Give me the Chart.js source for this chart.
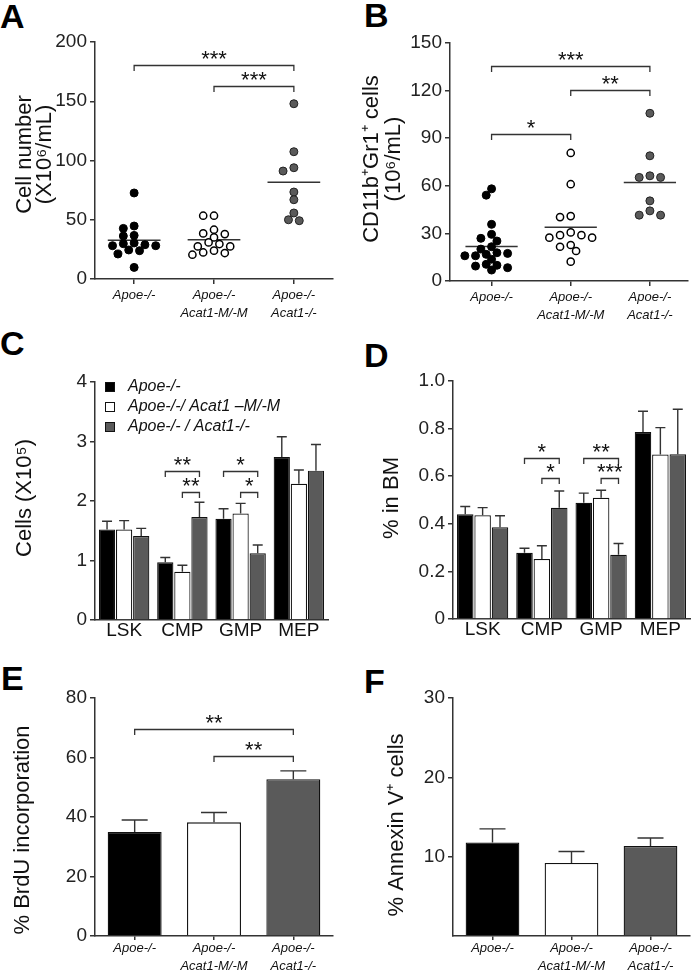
<!DOCTYPE html>
<html>
<head>
<meta charset="utf-8">
<script src="https://cdn.jsdelivr.net/npm/chart.js@4.4.1/dist/chart.umd.min.js"></script>
<style>
  body { margin: 0; background: #fff; width: 693px; height: 975px; position: relative; overflow: hidden; }
  canvas { position: absolute; }
  .lt { position: absolute; font: bold 34px 'Liberation Sans', Arial, sans-serif; line-height: 34px; color: #000; }
</style>
</head>
<body>
<div class="lt" style="left:0px;top:-1px">A</div>
<div class="lt" style="left:364px;top:-2px">B</div>
<div class="lt" style="left:0px;top:326px">C</div>
<div class="lt" style="left:364px;top:338px">D</div>
<div class="lt" style="left:1px;top:661px">E</div>
<div class="lt" style="left:364px;top:664px">F</div>

<canvas id="cA" width="340" height="320" style="left:0;top:0"></canvas>
<canvas id="cB" width="353" height="320" style="left:340px;top:0"></canvas>
<canvas id="cC" width="340" height="310" style="left:0;top:340px"></canvas>
<canvas id="cD" width="353" height="310" style="left:340px;top:340px"></canvas>
<canvas id="cE" width="340" height="315" style="left:0;top:660px"></canvas>
<canvas id="cF" width="353" height="315" style="left:340px;top:660px"></canvas>

<script>
// genotype groups (x axis of A, B, E, F)
const groupLabels = [["Apoe-/-"], ["Apoe-/-", "Acat1-M/-M"], ["Apoe-/-", "Acat1-/-"]];
const legendLabels = ["Apoe-/-", "Apoe-/-/ Acat1 \u2013M/-M", "Apoe-/- / Acat1-/-"];
const subsets = ["LSK", "CMP", "GMP", "MEP"];

// A: blood cell number (x10^6/mL), one value per mouse
const bloodApoe = [72.6, 42.7, 44.7, 36.3, 36.8, 28.1, 30.4, 28.9, 29.8, 28.1, 23.9, 24.5, 21.1, 9.8];
const bloodMM = [53.4, 53.4, 41.6, 38.5, 37.9, 35.1, 27.5, 29.5, 30.9, 27.5, 22.4, 20.5, 21.9, 23.9];
const bloodKO = [147.9, 107.4, 91.1, 93.9, 73.4, 66.9, 55.7, 49.2, 50.0];

// B: CD11b+Gr1+ cells (10^6/mL)
const myeApoe = [58.1, 54.1, 35.7, 29.4, 25.2, 26.9, 20.1, 21.6, 17.4, 15.9, 13.7, 16.8, 17.8, 15.9, 10.5, 9.4, 6.9, 8.4, 9.9];
const myeMM = [80.7, 61.0, 40.9, 40.3, 27.3, 30.6, 28.9, 28.9, 27.3, 22.7, 21.6, 18.9, 12.2];
const myeKO = [105.7, 78.9, 66.3, 65.3, 65.3, 50.5, 44.2, 41.5, 41.5];

// C: progenitor cells (x10^5), mean and SEM per subset
const cellsApoe = [1.52, 0.97, 1.70, 2.74];
const cellsApoeSem = [0.14, 0.08, 0.17, 0.34];
const cellsMM = [1.52, 0.81, 1.79, 2.29];
const cellsMMSem = [0.15, 0.11, 0.17, 0.23];
const cellsKO = [1.41, 1.73, 1.12, 2.51];
const cellsKOSem = [0.13, 0.25, 0.14, 0.44];

// D: % in BM
const pctApoe = [0.44, 0.278, 0.488, 0.786];
const pctApoeSem = [0.033, 0.019, 0.041, 0.087];
const pctMM = [0.436, 0.252, 0.509, 0.691];
const pctMMSem = [0.032, 0.056, 0.032, 0.113];
const pctKO = [0.385, 0.467, 0.27, 0.692];
const pctKOSem = [0.049, 0.071, 0.047, 0.189];

// E: % BrdU incorporation, F: % Annexin V+ cells
const brdu = [35.0, 38.2, 52.7];
const brduSem = [4.0, 3.3, 2.8];
const annexin = [11.8, 9.2, 11.35];
const annexinSem = [1.7, 1.45, 1.0];

// significance brackets
const sigA = [{ a: 1, b: 3, y: 181, label: "***" }, { a: 2, b: 3, y: 162.6, label: "***" }];
const sigB = [{ a: 1, b: 3, y: 135.5, label: "***" }, { a: 2, b: 3, y: 120.2, label: "**" }, { a: 1, b: 2, y: 92.9, label: "*" }];
const sigC = [
  { cat: 1, a: 0, b: 2, y: 2.5, label: "**" }, { cat: 1, a: 1, b: 2, y: 2.15, label: "**" },
  { cat: 2, a: 0, b: 2, y: 2.5, label: "*" }, { cat: 2, a: 1, b: 2, y: 2.15, label: "*" }
];
const sigD = [
  { cat: 1, a: 0, b: 2, y: 0.678, label: "*" }, { cat: 1, a: 1, b: 2, y: 0.592, label: "*" },
  { cat: 2, a: 0, b: 2, y: 0.678, label: "**" }, { cat: 2, a: 1, b: 2, y: 0.592, label: "***" }
];
const sigE = [{ a: 0, b: 2, y: 69.5, label: "**" }, { a: 1, b: 2, y: 60.6, label: "**" }];

const FONT = "'Liberation Sans', Arial, sans-serif";
Chart.defaults.font.family = FONT;
Chart.defaults.color = "#222";
Chart.defaults.animation = false;
const axisCol = "#333";
const gray = "#5a5a5a";

// ---- plugins ----
const errorBars = {
  id: "errorBars",
  afterDatasetsDraw(chart, args, o) {
    if (!o.sem) return;
    const ctx = chart.ctx, ys = chart.scales.y;
    ctx.save();
    ctx.strokeStyle = "#333";
    ctx.lineWidth = 1.4;
    chart.data.datasets.forEach((d, i) => {
      chart.getDatasetMeta(i).data.forEach((bar, j) => {
        const top = ys.getPixelForValue(d.data[j] + o.sem[i][j]);
        ctx.beginPath();
        ctx.moveTo(bar.x, bar.y);
        ctx.lineTo(bar.x, top);
        ctx.moveTo(bar.x - o.cap, top);
        ctx.lineTo(bar.x + o.cap, top);
        ctx.stroke();
      });
    });
    ctx.restore();
  }
};

const brackets = {
  id: "brackets",
  afterDatasetsDraw(chart, args, o) {
    if (!o.items) return;
    const ctx = chart.ctx, xs = chart.scales.x, ys = chart.scales.y;
    ctx.save();
    ctx.strokeStyle = "#333";
    ctx.lineWidth = 1.3;
    ctx.fillStyle = "#111";
    ctx.font = "22px " + FONT;
    ctx.textAlign = "center";
    ctx.textBaseline = "alphabetic";
    o.items.forEach(b => {
      let x1, x2;
      if (b.cat !== undefined) {
        x1 = chart.getDatasetMeta(b.a).data[b.cat].x;
        x2 = chart.getDatasetMeta(b.b).data[b.cat].x;
      } else {
        x1 = xs.getPixelForValue(b.a);
        x2 = xs.getPixelForValue(b.b);
      }
      const y = Math.round(ys.getPixelForValue(b.y)) + 0.5;
      ctx.beginPath();
      ctx.moveTo(x1, y + 5.5);
      ctx.lineTo(x1, y);
      ctx.lineTo(x2, y);
      ctx.lineTo(x2, y + 5.5);
      ctx.stroke();
      ctx.fillText(b.label, (x1 + x2) / 2, y + 0.5);
    });
    ctx.restore();
  }
};

const boxLegend = {
  id: "boxLegend",
  afterDraw(chart, args, o) {
    if (!o.show) return;
    const ctx = chart.ctx, a = chart.chartArea;
    ctx.save();
    ctx.font = "italic 16px " + FONT;
    ctx.textBaseline = "middle";
    chart.data.datasets.forEach((d, i) => {
      const y = a.top + 5 + i * 20;
      ctx.fillStyle = d.backgroundColor;
      ctx.fillRect(a.left + 10, y - 5, 10, 10);
      ctx.strokeStyle = "#111";
      ctx.lineWidth = 1;
      ctx.strokeRect(a.left + 10.5, y - 4.5, 9, 9);
      ctx.fillStyle = "#111";
      ctx.fillText(d.label, a.left + 33, y);
    });
    ctx.restore();
  }
};

const yTitle = {
  id: "yTitle",
  afterDraw(chart, args, o) {
    if (!o.lines) return;
    const ctx = chart.ctx, a = chart.chartArea;
    ctx.save();
    ctx.font = "22px " + FONT;
    ctx.fillStyle = "#111";
    ctx.textAlign = "center";
    ctx.textBaseline = "middle";
    o.lines.forEach((t, i) => {
      ctx.save();
      ctx.translate(o.x[i], (a.top + a.bottom) / 2 + (o.dy || 0));
      ctx.rotate(-Math.PI / 2);
      ctx.fillText(t, 0, 0);
      ctx.restore();
    });
    ctx.restore();
  }
};

// ---- helpers ----
function swarm(values, center, pxY, pxX) {
  // simple beeswarm: highest points first, step sideways until no overlap
  const step = 5.4, minD = 7;
  const placed = [];
  const out = new Array(values.length);
  const order = values.map((v, i) => i).sort((a, b) => values[b] - values[a]);
  for (const i of order) {
    const y = values[i] * pxY;
    let off = 0;
    for (let k = 0; k < 40; k++) {
      const cand = k === 0 ? 0 : (k % 2 ? -1 : 1) * Math.ceil(k / 2) * step;
      if (placed.every(p => Math.hypot(p.x - cand, p.y - y) >= minD)) { off = cand; break; }
    }
    placed.push({ x: off, y: y });
    out[i] = { x: center + off / pxX, y: values[i] };
  }
  return out;
}

const mean = arr => arr.reduce((s, v) => s + v, 0) / arr.length;

function yAxis(o) {
  return {
    min: o.min, max: o.max,
    ticks: { stepSize: o.step, font: { size: 19 }, padding: 3, color: "#222", callback: o.fmt || (v => v) },
    grid: { drawOnChartArea: false, tickLength: 5, color: o.gridColor || axisCol, lineWidth: 1.5 },
    border: { color: axisCol, width: 1.5 },
    afterFit: s => { s.width = o.w; }
  };
}

function groupTicks(pad) {
  return {
    font: { size: 13, style: "italic", lineHeight: 1.35 }, color: "#111", padding: pad, maxRotation: 0,
    autoSkip: false
  };
}

function dotChart(id, g, sets, sig) {
  const pxY = g.plotH / g.ymax;
  const pxX = g.plotW / (g.xmax - g.xmin);
  const styles = [
    { backgroundColor: "#000", borderColor: "#000", borderWidth: 1, pointRadius: 4 },
    { backgroundColor: "#fff", borderColor: "#000", borderWidth: 1.5, pointRadius: 3.6 },
    { backgroundColor: gray, borderColor: "#222", borderWidth: 1, pointRadius: 4 }
  ];
  const datasets = [];
  sets.forEach((vals, i) => {
    datasets.push(Object.assign({ data: swarm(vals, i + 1, pxY, pxX), pointHoverRadius: 4 }, styles[i]));
  });
  sets.forEach((vals, i) => {
    const m = mean(vals);
    datasets.push({ data: [{ x: i + 0.67, y: m }, { x: i + 1.33, y: m }], showLine: true, pointRadius: 0,
      borderColor: "#333", borderWidth: 1.5 });
  });
  new Chart(document.getElementById(id), {
    type: "scatter",
    data: { datasets: datasets },
    plugins: [brackets, yTitle],
    options: {
      responsive: false,
      layout: { padding: { left: 0, top: g.pt, right: g.pr, bottom: 0 } },
      plugins: { legend: { display: false }, tooltip: { enabled: false },
        brackets: { items: sig }, yTitle: g.title },
      scales: {
        x: {
          type: "linear", min: g.xmin, max: g.xmax,
          afterBuildTicks: s => { s.ticks = [1, 2, 3].map(v => ({ value: v })); },
          ticks: Object.assign(groupTicks(g.xpad), { callback: v => groupLabels[v - 1] }),
          grid: { drawOnChartArea: false, tickLength: 5, color: axisCol, lineWidth: 1.5 },
          border: { color: axisCol, width: 1.5 },
          afterFit: s => { s.height = g.xh; }
        },
        y: yAxis(g.y)
      }
    }
  });
}

function groupedChart(id, g, vals, sems, sig, legend) {
  const fills = ["#000", "#fff", gray];
  new Chart(document.getElementById(id), {
    type: "bar",
    data: {
      labels: subsets,
      datasets: vals.map((v, i) => ({ label: legendLabels[i], data: v, backgroundColor: fills[i],
        borderColor: "#111", borderWidth: 1.2, categoryPercentage: 0.88, barPercentage: 0.95 }))
    },
    plugins: [errorBars, brackets, boxLegend, yTitle],
    options: {
      responsive: false,
      layout: { padding: { left: 0, top: g.pt, right: g.pr, bottom: 0 } },
      plugins: { legend: { display: false }, tooltip: { enabled: false },
        errorBars: { sem: sems, cap: 5 }, brackets: { items: sig }, boxLegend: { show: legend }, yTitle: g.title },
      scales: {
        x: {
          ticks: { font: { size: 19, lineHeight: 1 }, color: "#111", padding: 1 },
          grid: { display: true, drawOnChartArea: false, drawTicks: false },
          border: { color: axisCol, width: 1.5 },
          afterFit: s => { s.height = g.xh; }
        },
        y: yAxis(g.y)
      }
    }
  });
}

function simpleBarChart(id, g, vals, sem, sig) {
  new Chart(document.getElementById(id), {
    type: "bar",
    data: {
      labels: groupLabels,
      datasets: [{ data: vals, backgroundColor: ["#000", "#fff", gray], borderColor: "#111", borderWidth: 1.3,
        categoryPercentage: 1, barPercentage: 0.68 }]
    },
    plugins: [errorBars, brackets, yTitle],
    options: {
      responsive: false,
      layout: { padding: { left: 0, top: g.pt, right: g.pr, bottom: 0 } },
      plugins: { legend: { display: false }, tooltip: { enabled: false },
        errorBars: { sem: [sem], cap: 13 }, brackets: { items: sig }, yTitle: g.title },
      scales: {
        x: {
          ticks: groupTicks(g.xpad),
          grid: { offset: false, drawOnChartArea: false, tickLength: 4, color: axisCol, lineWidth: 1.5 },
          border: { color: axisCol, width: 1.5 },
          afterFit: s => { s.height = g.xh; }
        },
        y: yAxis(g.y)
      }
    }
  });
}

// ---- panels ----
dotChart("cA", {
  pt: 42, pr: 7, xh: 41, xpad: 3, plotH: 237, plotW: 238, ymax: 200, xmin: 0.51, xmax: 3.49,
  y: { min: 0, max: 200, step: 50, w: 95 },
  title: { lines: ["Cell number", "(X10\u2076/mL)"], x: [25, 45], dy: -6 }
}, [bloodApoe, bloodMM, bloodKO], sigA);

dotChart("cB", {
  pt: 43, pr: 3, xh: 39, xpad: 3, plotH: 238, plotW: 240, ymax: 150, xmin: 0.475, xmax: 3.475,
  y: { min: 0, max: 150, step: 30, w: 110 },
  title: { lines: ["CD11b\u207AGr1\u207A cells", "(10\u2076/mL)"], x: [32, 54], dy: -3 }
}, [myeApoe, myeMM, myeKO], sigB);

groupedChart("cC", {
  pt: 42, pr: 12, xh: 30,
  y: { min: 0, max: 4, step: 1, w: 95 },
  title: { lines: ["Cells (X10\u2075)"], x: [25], dy: -3 }
}, [cellsApoe, cellsMM, cellsKO], [cellsApoeSem, cellsMMSem, cellsKOSem], sigC, true);

groupedChart("cD", {
  pt: 41, pr: 3, xh: 31,
  y: { min: 0, max: 1, step: 0.2, w: 113, fmt: v => (v === 0 ? "0" : v.toFixed(1)) },
  title: { lines: ["% in BM"], x: [52], dy: -2 }
}, [pctApoe, pctMM, pctKO], [pctApoeSem, pctMMSem, pctKOSem], sigD, false);

simpleBarChart("cE", {
  pt: 38, pr: 7, xh: 39, xpad: 0,
  y: { min: 0, max: 80, step: 20, w: 95 },
  title: { lines: ["% BrdU incorporation"], x: [23], dy: 13 }
}, brdu, brduSem, sigE);

simpleBarChart("cF", {
  pt: 38, pr: 3, xh: 39, xpad: 0,
  y: { min: 0, max: 30, step: 10, w: 113, fmt: v => (v === 0 ? "" : v),
       gridColor: c => (c.tick && c.tick.value === 0 ? "rgba(0,0,0,0)" : axisCol) },
  title: { lines: ["% Annexin V\u207A cells"], x: [57], dy: 8 }
}, annexin, annexinSem, []);
</script>
</body>
</html>
